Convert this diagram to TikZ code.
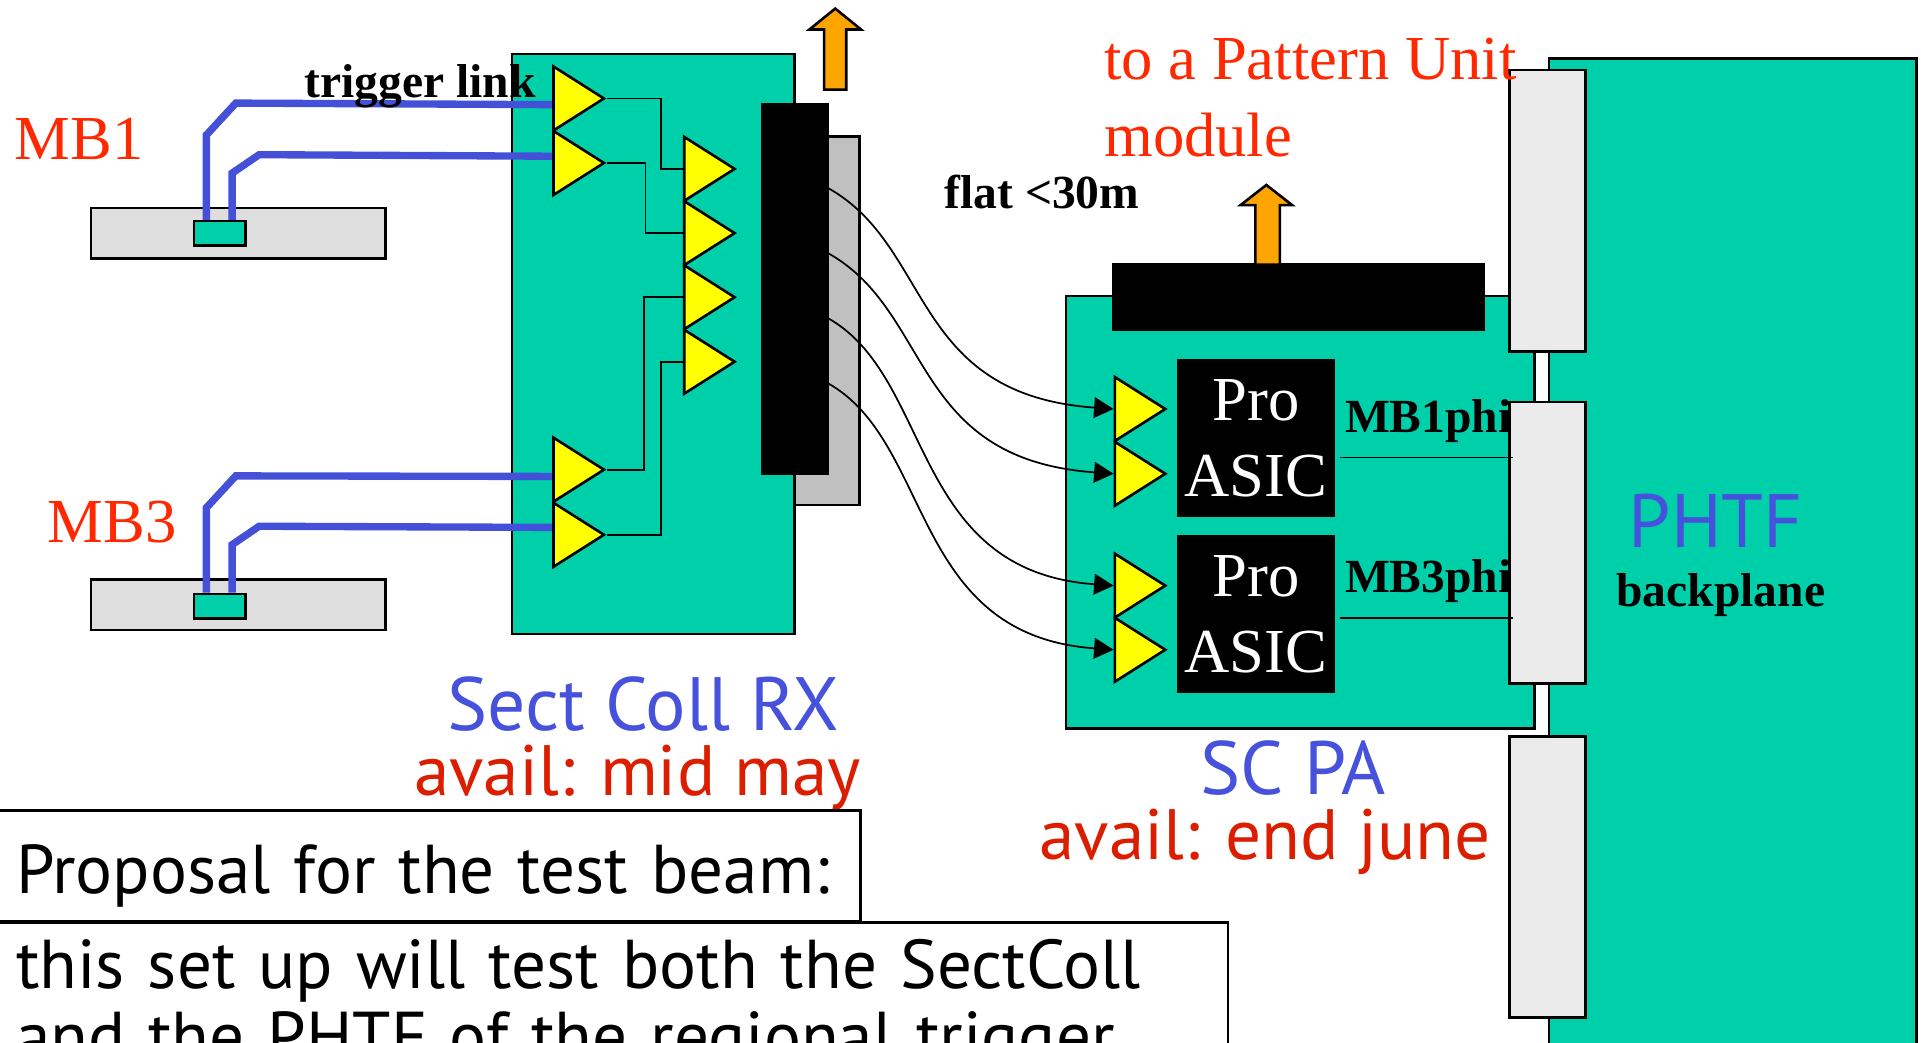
\documentclass[tikz,border=0pt]{standalone}
\usepackage{fontspec}
\setmainfont{Liberation Serif}
\newfontfamily\comicfont{PT Sans}
\usetikzlibrary{shapes.geometric,arrows.meta}

\definecolor{boardgreen}{RGB}{0,208,170}
\definecolor{ampyellow}{RGB}{255,255,0}
\definecolor{linkblue}{RGB}{68,80,216}
\definecolor{labelred}{RGB}{255,40,0}
\definecolor{availred}{RGB}{220,30,0}
\definecolor{textblue}{RGB}{70,82,220}
\definecolor{arroworange}{RGB}{255,165,0}
\definecolor{plugray}{RGB}{192,192,192}
\definecolor{slotgray}{RGB}{235,235,235}

\begin{document}
\begin{tikzpicture}[x=0.01cm, y=-0.01cm, line width=0.6pt,
    board/.style={draw, fill=boardgreen, inner sep=0pt},
    chamber/.style={draw, fill=black!13, minimum width=2.4cm, minimum height=0.41cm, inner sep=0pt},
    link/.style={draw=linkblue, line width=1.7pt},
    amp/.style={isosceles triangle, isosceles triangle stretches, draw, fill=ampyellow, inner sep=0pt,
        minimum width=0.52cm, minimum height=0.41cm, anchor=west},
    wire/.style={line width=0.4pt},
    flat/.style={line width=0.4pt, -{Triangle[length=4.5pt, width=4.8pt]}},
    plug/.style={draw, fill=black, inner sep=0pt},
    slot/.style={draw, fill=slotgray, minimum width=0.62cm, minimum height=2.29cm, inner sep=0pt},
    redlabel/.style={text=labelred, font=\fontsize{14.5}{17.8}\selectfont, inner sep=0pt},
    boldlabel/.style={font=\bfseries\fontsize{11}{13}\selectfont, inner sep=0pt},
    comic/.style={font=\comicfont\fontsize{16.5}{16.5}\selectfont, inner sep=0pt},
    bluelabel/.style={text=textblue, font=\comicfont\fontsize{17.5}{17.5}\selectfont, inner sep=0pt},
    textbox/.style={draw, fill=white, font=\comicfont\fontsize{16}{16.5}\selectfont, inner xsep=0.17cm, align=left}
]
\clip (0,0) rectangle (1564,849);

% chambers
\node[chamber] (ch1) at (194,190) {};
\node[chamber] (ch3) at (194,492.5) {};
\node[board, minimum width=0.42cm, minimum height=0.2cm] (c1) at (179,190) {};
\node[board, minimum width=0.42cm, minimum height=0.2cm] (c3) at (179,493.5) {};

% Sect Coll RX board
\node[board, minimum width=2.3cm, minimum height=4.72cm] (rx) at (532,280) {};
\foreach \n/\y in {a1/80.2, a2/132.7, a3/382.4, a4/435.4}
    \node[amp] (\n) at (449.6,\y) {};
\foreach \n/\y in {b1/137.5, b2/189.8, b3/242, b4/294.5}
    \node[amp] (\n) at (556,\y) {};

\draw[link] ([xshift=-0.11cm]c1.north) -- ++(0,-69) -- ++(24,-26) -- ([yshift=-0.05cm]a1.west);
\draw[link] ([xshift=0.1cm]c1.north) -- ++(0,-38) -- ++(22,-15) -- ([yshift=0.055cm]a2.west);
\draw[link] ([xshift=-0.11cm]c3.north) -- ++(0,-69) -- ++(24,-26) -- ([yshift=-0.055cm]a3.west);
\draw[link] ([xshift=0.1cm]c3.north) -- ++(0,-39) -- ++(22,-15) -- ([yshift=0.06cm]a4.west);

\draw[wire] (a1.apex) -- ++(44,0) |- (b1.west);
\draw[wire] (a2.apex) -- ++(31,0) |- (b2.west);
\draw[wire] (a3.apex) -- ++(30,0) |- (b3.west);
\draw[wire] (a4.apex) -- ++(44,0) |- (b4.west);

\node[draw, fill=plugray, minimum width=0.526cm, minimum height=3cm, inner sep=0pt] (gc) at (673.3,261.2) {};
\node[plug, minimum width=0.534cm, minimum height=3cm] (bc) at (647.3,235.4) {};
\foreach \y [count=\i] in {153,206,259,312}
    \coordinate (f\i) at (674,\y);

\draw[fill=arroworange] (671,73) -- (671,24) -- (659,24) -- (680,7) -- (701,24) -- (689,24) -- (689,73) -- cycle;

% SC PA and PHTF backplane
\node[board, anchor=north west, minimum width=2.99cm, minimum height=8.5cm] (phtf) at (1260,46.6) {};
\node[board, minimum width=3.81cm, minimum height=3.52cm] (scpa) at (1058.5,417) {};
\node[plug, minimum width=3.01cm, minimum height=0.53cm] (pu) at (1057,242) {};
\draw[fill=arroworange] (1022,215.5) -- (1022,167) -- (1010,167) -- (1031,150.6) -- (1052,167) -- (1042,167) -- (1042,215.5) -- cycle;
\node[plug, text=white, align=center, font=\fontsize{14.5}{17.6}\selectfont, minimum width=1.26cm, minimum height=1.26cm] (asic1) at (1022.5,356.5) {Pro\\ASIC};
\node[plug, text=white, align=center, font=\fontsize{14.5}{17.6}\selectfont, minimum width=1.26cm, minimum height=1.26cm] (asic3) at (1022.5,500) {Pro\\ASIC};
\foreach \n/\y in {p1/333, p2/385.7, p3/476.8, p4/529}
    \node[amp] (\n) at (906.6,\y) {};
\foreach \n/\y in {s1/171.5, s2/442, s3/714}
    \node[slot] (\n) at (1260,\y) {};
\coordinate (phi1) at ([shift={(4,16)}]asic1.east);
\coordinate (phi3) at ([shift={(4,3)}]asic3.east);
\draw[wire] (phi1) -- ([xshift=0.035cm]phi1 -| s2.west);
\draw[wire] (phi3) -- ([xshift=0.035cm]phi3 -| s2.west);

% flat cables
\foreach \i in {1,...,4}
    \draw[flat] (f\i) .. controls +(86,48) and +(-166,-12) .. (p\i.west);

% labels
\node[redlabel, anchor=base west] (mb1) at (11,130) {MB1};
\node[redlabel, anchor=base west] (mb3) at (38,442) {MB3};
\node[boldlabel, anchor=base west] (trig) at (247,79) {trigger link};
\node[boldlabel, anchor=base west] (flatlbl) at (768,169.5) {flat <30m};
\node[redlabel, anchor=base west, align=left] (pulbl) at (898,127.5) {to a Pattern Unit\\module};
\node[boldlabel, anchor=base west] (mb1phi) at (1094,352.5) {MB1phi};
\node[boldlabel, anchor=base west] (mb3phi) at (1094,482) {MB3phi};
\node[bluelabel, anchor=base] (phtflbl) at (1397,446) {PHTF};
\node[boldlabel, anchor=base] (bplbl) at (1401,494) {backplane};
\node[bluelabel, anchor=base] (rxlbl) at (524,595) {Sect Coll RX};
\node[comic, text=availred, anchor=base] (rxavail) at (519,648) {avail: mid may};
\node[bluelabel, anchor=base] (scpalbl) at (1053,647) {SC PA};
\node[comic, text=availred, anchor=base] (scpaavail) at (1030,700) {avail: end june};

% proposal boxes
\node[textbox, anchor=north west, text width=6.7cm, text height=0.67cm, text depth=0.23cm, inner ysep=0pt] (prop) at (-5,659) {Proposal for the test beam:};
\node[textbox, anchor=north west, text width=9.69cm, inner ysep=0.14cm] (note) at (-5,750) {this set up will test both the SectColl\\and the PHTF of the regional trigger};
\end{tikzpicture}
\end{document}
